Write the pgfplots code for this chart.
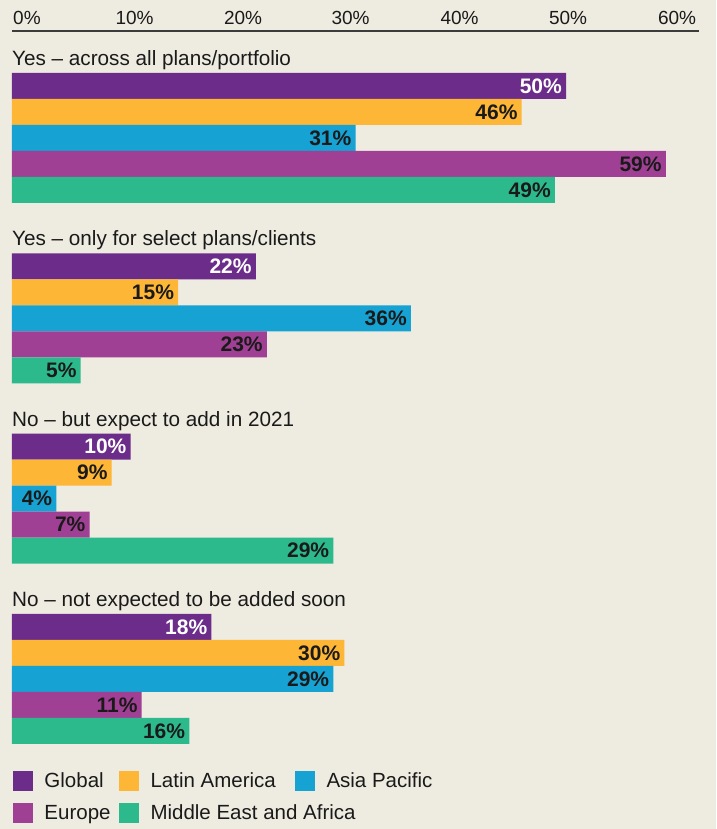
\documentclass[border=0pt]{standalone}
\usepackage{fontspec}
\setmainfont{Liberation Sans}
\usepackage{pgfplots}
\pgfplotsset{compat=1.18}
\usetikzlibrary{backgrounds}

\definecolor{bg}{HTML}{EEEBE0}
\definecolor{cGlobal}{HTML}{6C2C8A}
\definecolor{cLatam}{HTML}{FDB635}
\definecolor{cAsia}{HTML}{16A2D3}
\definecolor{cEurope}{HTML}{A04094}
\definecolor{cMea}{HTML}{2CBA8D}
\definecolor{ink}{HTML}{1A1A1A}

\pgfplotsset{sqlegend/.style={legend image code/.code={\fill[##1,draw=none] (0pt,-10pt) rectangle (20pt,10pt);}}}

\begin{document}
\begin{tikzpicture}[font=\fontsize{20.7}{24}\selectfont, text=ink]
\begin{axis}[
    x=11.08pt, y=180.33pt,
    xmin=0, xmax=62,
    ymin=-0.3604, ymax=3.593,
    axis x line=top, axis y line=none,
    x axis line style={-, draw=ink!85, line width=1.3pt},
    xticklabel pos=upper,
    % labels sit where the reference shows them
    xtick={1.35,11.06,20.85,30.55,40.39,50.18,60.02},
    xticklabels={0\%,10\%,20\%,30\%,40\%,50\%,60\%},
    major tick length=0pt,
    xticklabel style={anchor=base, inner sep=0pt, yshift=7pt, font=\fontsize{19}{22}\selectfont},
    /pgf/number format/assume math mode=true,
    xbar, bar width=26pt,
    clip=false,
    point meta=explicit,
    nodes near coords={\pgfmathprintnumber{\pgfplotspointmeta}\%},
    every node near coord/.append style={anchor=east, xshift=-4pt, inner sep=0pt,
        font=\bfseries\fontsize{21}{24}\selectfont, text=ink},
    legend columns=3,
    legend cell align=left,
    legend style={at={(axis cs:0.09,-0.510)}, anchor=north west, draw=none, fill=none,
        inner sep=0pt, outer sep=0pt, column sep=0pt, row sep=12pt,
        nodes={inner sep=0pt, outer sep=0pt}, font=\fontsize{20.5}{24}\selectfont},
  ]
  \addplot[fill=cGlobal, draw=none, bar shift=52pt, sqlegend,
      every node near coord/.append style={text=white}]
      coordinates {(50,3) [50] (22,2) [22] (10.7,1) [10] (18,0) [18]};
  \addlegendentry{\makebox[86pt][l]{\hspace*{11.5pt}Global}}
  \addplot[fill=cLatam, draw=none, bar shift=26pt, sqlegend]
      coordinates {(46,3) [46] (15,2) [15] (9,1) [9] (30,0) [30]};
  \addlegendentry{\makebox[156pt][l]{\hspace*{11.5pt}Latin America}}
  \addplot[fill=cAsia, draw=none, bar shift=0pt, sqlegend]
      coordinates {(31,3) [31] (36,2) [36] (4,1) [4] (29,0) [29]};
  \addlegendentry{\hspace*{11.5pt}Asia Pacific}
  \addplot[fill=cEurope, draw=none, bar shift=-26pt, sqlegend]
      coordinates {(59,3) [59] (23,2) [23] (7,1) [7] (11.7,0) [11]};
  \addlegendentry{\makebox[86pt][l]{\hspace*{11.5pt}Europe}}
  \addplot[fill=cMea, draw=none, bar shift=-52pt, sqlegend]
      coordinates {(49,3) [49] (6.2,2) [5] (29,1) [29] (16,0) [16]};
  \addlegendentry{\makebox[156pt][l]{\hspace*{11.5pt}Middle East and Africa}}

  \node[anchor=base west, inner sep=0pt, yshift=72.5pt] at (axis cs:0,3) {Yes – across all plans/portfolio};
  \node[anchor=base west, inner sep=0pt, yshift=72.5pt] at (axis cs:0,2) {Yes – only for select plans/clients};
  \node[anchor=base west, inner sep=0pt, yshift=72.5pt] at (axis cs:0,1) {No – but expect to add in 2021};
  \node[anchor=base west, inner sep=0pt, yshift=72.5pt] at (axis cs:0,0) {No – not expected to be added soon};

  \coordinate (frameSW) at (axis cs:-1.083,-0.8319);
  \coordinate (frameNE) at (axis cs:63.54,3.765);
\end{axis}
\begin{scope}[on background layer]
  \fill[bg] (frameSW) rectangle (frameNE);
\end{scope}
\pgfresetboundingbox
\useasboundingbox (frameSW) rectangle (frameNE);
\end{tikzpicture}
\end{document}
